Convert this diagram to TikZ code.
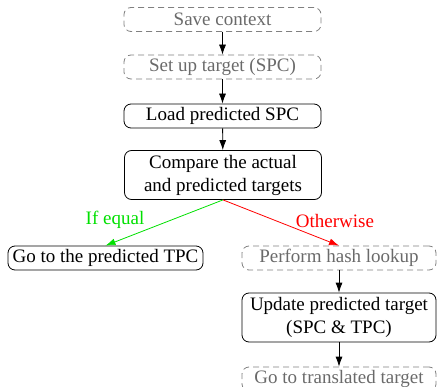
\documentclass[tikz,border=0pt]{standalone}
\usepackage{fontspec}
\setmainfont{Liberation Serif}
\usetikzlibrary{arrows.meta}
\definecolor{dgray}{HTML}{6A6A6A}
\definecolor{bgray}{HTML}{808080}
\definecolor{pgreen}{HTML}{00E000}
\tikzset{
  box/.style={draw, rounded corners=7pt, line width=0.8pt, minimum width=197pt, inner sep=0pt, align=center, font=\fontsize{19}{23}\selectfont},
  sbox/.style={box, minimum height=24pt},
  dbox/.style={box, minimum height=24pt, draw=bgray, text=dgray, dash pattern=on 6pt off 4pt},
  tbox/.style={box, minimum height=49pt},
  arr/.style={-{Latex[length=10pt,width=7pt]}, line width=0.8pt},
  lbl/.style={font=\fontsize{19}{23}\selectfont, inner sep=0pt}
}
\begin{document}
\begin{tikzpicture}[x=1pt,y=-1pt]
\useasboundingbox (0,0) rectangle (438,387);
\node[dbox] (save) at (222.5,19.5) {Save context};
\node[dbox] (setup) at (222.5,67) {Set up target (SPC)};
\node[sbox] (load) at (222.5,116) {Load predicted SPC};
\node[tbox] (cmp) at (223,175) {Compare the actual\\and predicted targets};
\node[sbox, minimum width=195pt] (gotpc) at (105.5,258) {Go to the predicted TPC};
\node[dbox, minimum width=194pt] (hash) at (339,258) {Perform hash lookup};
\node[tbox, minimum width=194pt] (upd) at (339,317.5) {Update predicted target\\(SPC \& TPC)};
\node[dbox, minimum width=194pt] (gotr) at (339,379) {Go to translated target};
\draw[arr] (save) -- (setup);
\draw[arr] (setup) -- (load);
\draw[arr] (load) -- (cmp);
\draw[arr, pgreen] (cmp.south) -- (gotpc.north);
\draw[arr, red] (cmp.south) -- (hash.north);
\draw[arr] (hash) -- (upd);
\draw[arr] (upd) -- (gotr);
\node[lbl, text=pgreen] (eq) at (115,220) {If equal};
\node[lbl, text=red] (ow) at (335,221) {Otherwise};
\end{tikzpicture}
\end{document}
